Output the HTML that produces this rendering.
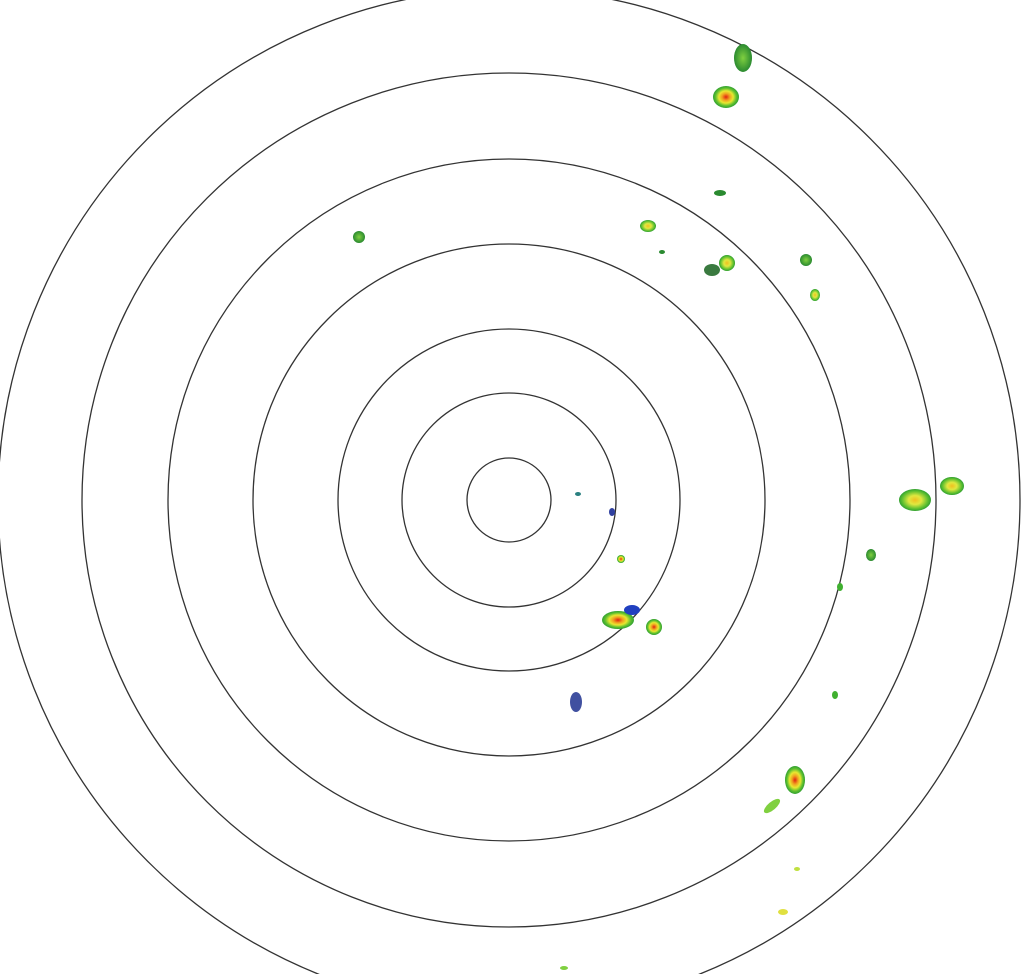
<!DOCTYPE html>
<html><head><meta charset="utf-8"><style>html,body{margin:0;padding:0;background:#fff;}svg{display:block}</style></head>
<body>
<svg width="1029" height="974" viewBox="0 0 1029 974" xmlns="http://www.w3.org/2000/svg">
<defs>
<radialGradient id="hot"><stop offset="0" stop-color="#e02010"/><stop offset="0.3" stop-color="#f0a020"/><stop offset="0.55" stop-color="#e8e830"/><stop offset="0.8" stop-color="#60c030"/><stop offset="1" stop-color="#30a030"/></radialGradient>
<radialGradient id="warm"><stop offset="0" stop-color="#f0c020"/><stop offset="0.4" stop-color="#e0e840"/><stop offset="0.8" stop-color="#60c030"/><stop offset="1" stop-color="#30a030"/></radialGradient>
<radialGradient id="grn"><stop offset="0" stop-color="#80d040"/><stop offset="1" stop-color="#2a8a30"/></radialGradient>
</defs>
<g fill="none" stroke="#333" stroke-width="1.3">
<circle cx="509" cy="500" r="42"/>
<circle cx="509" cy="500" r="107"/>
<circle cx="509" cy="500" r="171"/>
<circle cx="509" cy="500" r="256"/>
<circle cx="509" cy="500" r="341"/>
<circle cx="509" cy="500" r="427"/>
<circle cx="509" cy="500" r="511"/>
</g>
<g>
<ellipse cx="743" cy="58" rx="9" ry="14" fill="url(#grn)"/>
<ellipse cx="726" cy="97" rx="13" ry="11" fill="url(#hot)"/>
<ellipse cx="720" cy="193" rx="6" ry="3" fill="#2a8a30"/>
<ellipse cx="648" cy="226" rx="8" ry="6" fill="url(#warm)"/>
<ellipse cx="359" cy="237" rx="6" ry="6" fill="url(#grn)"/>
<ellipse cx="727" cy="263" rx="8" ry="8" fill="url(#warm)"/>
<ellipse cx="712" cy="270" rx="8" ry="6" fill="#3a7a40"/>
<ellipse cx="806" cy="260" rx="6" ry="6" fill="url(#grn)"/>
<ellipse cx="815" cy="295" rx="5" ry="6" fill="url(#warm)"/>
<ellipse cx="662" cy="252" rx="3" ry="2" fill="#2a8a30"/>
<ellipse cx="915" cy="500" rx="16" ry="11" fill="url(#warm)"/>
<ellipse cx="952" cy="486" rx="12" ry="9" fill="url(#warm)"/>
<ellipse cx="871" cy="555" rx="5" ry="6" fill="url(#grn)"/>
<ellipse cx="840" cy="587" rx="3" ry="4" fill="#40b030"/>
<ellipse cx="835" cy="695" rx="3" ry="4" fill="#40b030"/>
<ellipse cx="621" cy="559" rx="4" ry="4" fill="url(#hot)"/>
<ellipse cx="618" cy="620" rx="16" ry="9" fill="url(#hot)"/>
<ellipse cx="632" cy="610" rx="8" ry="5" fill="#2040c0"/>
<ellipse cx="654" cy="627" rx="8" ry="8" fill="url(#hot)"/>
<ellipse cx="576" cy="702" rx="6" ry="10" fill="#4050a0"/>
<ellipse cx="612" cy="512" rx="3" ry="4" fill="#3040a0"/>
<ellipse cx="578" cy="494" rx="3" ry="2" fill="#2a8080"/>
<ellipse cx="795" cy="780" rx="10" ry="14" fill="url(#hot)"/>
<ellipse cx="772" cy="806" rx="10" ry="4" fill="#80d040" transform="rotate(-40 772 806)"/>
<ellipse cx="797" cy="869" rx="3" ry="2" fill="#c0e040"/>
<ellipse cx="783" cy="912" rx="5" ry="3" fill="#e0e040"/>
<ellipse cx="564" cy="968" rx="4" ry="2" fill="#80d040"/>
</g>
</svg>
</body></html>
